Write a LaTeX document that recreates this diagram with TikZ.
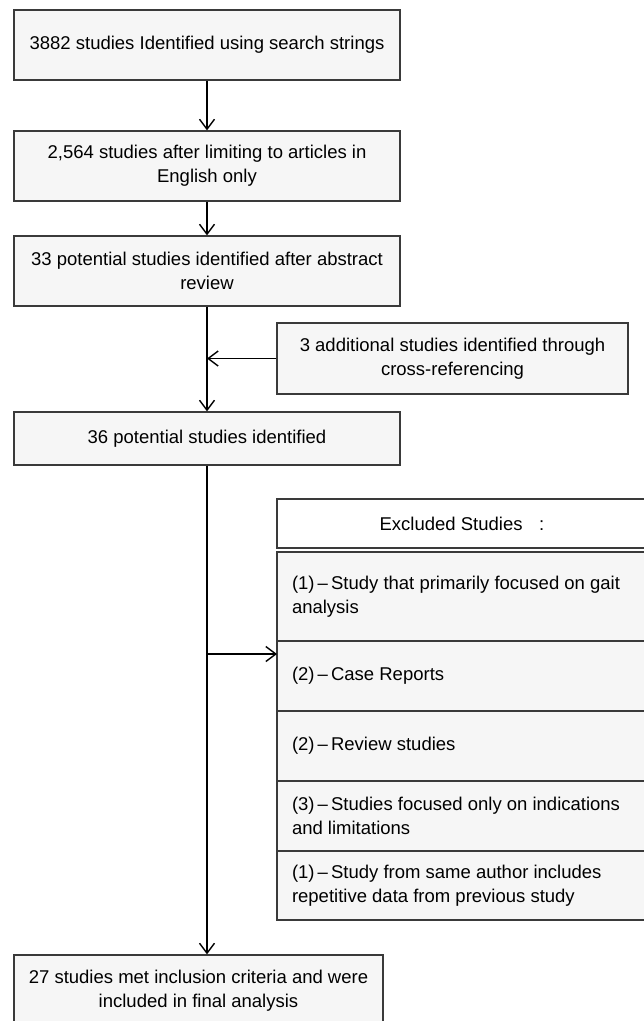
\documentclass[tikz,border=0pt]{standalone}
\usepackage{fontspec}
\setmainfont{Liberation Sans}
\usepackage{tikz}
\usetikzlibrary{arrows.meta}
\usetikzlibrary{positioning}
\definecolor{boxgray}{HTML}{F6F6F6}
\definecolor{linegray}{HTML}{3A3A3A}

\begin{document}
\begin{tikzpicture}[x=1pt,y=-1pt,>={Straight Barb[length=10pt,width=15pt]},
	main node/.style={rectangle, draw=linegray, line width=1.2pt, fill=boxgray, align=flush center, font=\fontsize{18.5}{24}\selectfont, inner ysep=0pt},
	list node/.style={main node, align=flush left, text width=340pt, inner xsep=15pt, outer sep=0pt}]
			\useasboundingbox (0,0) rectangle (644,1021);
			% Nodes
			\node[main node, text width=370pt, inner xsep=8pt, minimum height=70pt] (1) at (207,45) {3882 studies Identified using search strings};
			\node[main node, text width=370pt, inner xsep=8pt, minimum height=70pt] (2) at (207,166) {2,564 studies after limiting to articles in English only};
			\node[main node, text width=370pt, inner xsep=8pt, minimum height=70pt] (3) at (207,271) {33 potential studies identified after abstract review};
			\node[main node, text width=335pt, inner xsep=8pt, minimum height=71pt] (5) at (452.5,358.5) {3 additional studies identified through cross-referencing};
			\node[main node, text width=370pt, inner xsep=8pt, minimum height=53pt] (4) at (207,438.5) {36 potential studies identified};
			
			%\node[main node] (6) at (462,523.5) {Excluded Studies};
			\node[list node, fill=white, align=flush center, minimum height=49pt] (6) at (462,523.5) {Excluded Studies\hspace{0.9em}:};
			\node[list node, minimum height=89pt] (7) [below=4pt of 6] {(1)\,–\,Study that primarily focused on gait analysis};
			\node[list node, minimum height=70pt] (8) [below=0pt of 7] {(2)\,–\,Case Reports};
			\node[list node, minimum height=70pt] (9) [below=0pt of 8] {(2)\,–\,Review studies};
			\node[list node, minimum height=70pt] (10) [below=0pt of 9] {(3)\,–\,Studies focused only on indications and limitations};
			\node[list node, minimum height=69pt] (11) [below=0pt of 10] {(1)\,–\,Study from same author includes repetitive data from previous study};
			
			\node[main node, text width=355pt, inner xsep=7pt, minimum height=72pt] (12) at (198.5,991) {27 studies met inclusion criteria and were included in final analysis};
			
			\coordinate (j1) at (3.south |- 5.west);
			\coordinate (j2) at (207,654);
			
			\draw[->, line width=1.4pt] (1) -- (2);
			\draw[->, line width=1.4pt] (2) -- (3);
			\draw[->, line width=1.4pt] (3) -- (4);
			\draw[->, line width=1.4pt] (5) -- (j1);
			\draw[->, line width=1.4pt] (4) -- (4.south |- 12.north);
			\draw[->, line width=1.4pt] (j2) -- (j2 -| 6.west);
			
		\end{tikzpicture}
\end{document}
